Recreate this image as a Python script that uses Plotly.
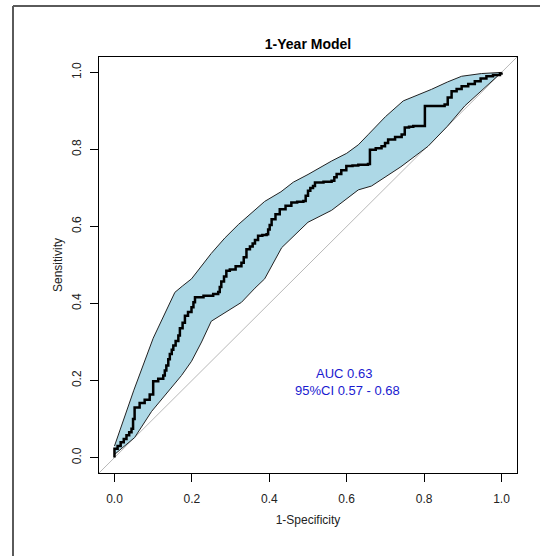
import plotly.graph_objects as go

# ROC curve (1-Specificity, Sensitivity) - step vertices
roc_fpr = [0, 0, 0.008, 0.016, 0.024, 0.031, 0.038, 0.044, 0.048, 0.052, 0.065, 0.078, 0.091,
           0.1, 0.113, 0.126, 0.13, 0.134, 0.139, 0.143, 0.148, 0.152, 0.158, 0.165, 0.169,
           0.176, 0.182, 0.19, 0.199, 0.204, 0.208, 0.23, 0.255, 0.268, 0.272, 0.276, 0.283,
           0.289, 0.298, 0.313, 0.328, 0.334, 0.341, 0.35, 0.357, 0.363, 0.371, 0.382, 0.393,
           0.397, 0.401, 0.406, 0.416, 0.427, 0.442, 0.457, 0.472, 0.488, 0.494, 0.5, 0.506,
           0.513, 0.518, 0.54, 0.561, 0.568, 0.574, 0.586, 0.599, 0.615, 0.63, 0.655, 0.66,
           0.675, 0.69, 0.699, 0.707, 0.725, 0.742, 0.75, 0.761, 0.772, 0.802, 0.853, 0.861,
           0.871, 0.884, 0.897, 0.914, 0.931, 0.946, 0.961, 0.978, 0.996, 1.0]
roc_tpr = [0, 0.023, 0.03, 0.04, 0.048, 0.058, 0.066, 0.075, 0.1, 0.13, 0.142, 0.15, 0.164,
           0.198, 0.205, 0.213, 0.226, 0.239, 0.255, 0.269, 0.28, 0.291, 0.303, 0.317, 0.336,
           0.35, 0.368, 0.378, 0.39, 0.403, 0.416, 0.42, 0.425, 0.43, 0.443, 0.457, 0.47,
           0.485, 0.488, 0.497, 0.506, 0.52, 0.541, 0.548, 0.556, 0.565, 0.576, 0.578, 0.58,
           0.592, 0.604, 0.619, 0.632, 0.645, 0.654, 0.662, 0.664, 0.666, 0.68, 0.693, 0.7,
           0.705, 0.714, 0.716, 0.719, 0.728, 0.736, 0.746, 0.757, 0.758, 0.76, 0.762, 0.799,
           0.803, 0.808, 0.817, 0.826, 0.832, 0.839, 0.857, 0.859, 0.861, 0.913, 0.917, 0.935,
           0.951, 0.957, 0.964, 0.97, 0.977, 0.984, 0.99, 0.993, 0.997, 1.0]

# Upper 95% CI bound
ci_up_fpr = [0, 0.05, 0.1, 0.156, 0.175, 0.199, 0.25, 0.285, 0.32, 0.354, 0.388, 0.43, 0.462,
             0.5, 0.535, 0.561, 0.6, 0.63, 0.655, 0.7, 0.746, 0.78, 0.819, 0.86, 0.897, 0.948, 1.0]
ci_up_tpr = [0.03, 0.175, 0.31, 0.429, 0.445, 0.464, 0.53, 0.57, 0.605, 0.635, 0.665, 0.69,
             0.715, 0.735, 0.755, 0.77, 0.79, 0.812, 0.838, 0.885, 0.926, 0.94, 0.956, 0.975,
             0.99, 0.997, 1.0]

# Lower 95% CI bound
ci_lo_fpr = [0, 0.052, 0.096, 0.173, 0.199, 0.225, 0.25, 0.328, 0.363, 0.388, 0.432, 0.5,
             0.561, 0.63, 0.664, 0.74, 0.81, 0.86, 0.905, 0.95, 1.0]
ci_lo_tpr = [0.008, 0.052, 0.12, 0.213, 0.25, 0.3, 0.354, 0.403, 0.44, 0.464, 0.545, 0.611,
             0.642, 0.695, 0.705, 0.755, 0.808, 0.86, 0.913, 0.955, 1.0]

tick_vals = [0.0, 0.2, 0.4, 0.6, 0.8, 1.0]
tick_text = ["0.0", "0.2", "0.4", "0.6", "0.8", "1.0"]

title_text = "1-Year Model"
x_title = "1-Specificity"
y_title = "Sensitivity"
auc_text = "AUC 0.63"
ci_text = "95%CI 0.57 - 0.68"

FONT = "Liberation Sans, Arial, sans-serif"

fig = go.Figure()

# diagonal reference line across the plot box
fig.add_trace(go.Scatter(x=[-0.04, 1.04], y=[-0.04, 1.04], mode="lines",
                         line=dict(color="#b8b8b8", width=1), hoverinfo="skip"))

# CI band
fig.add_trace(go.Scatter(x=ci_up_fpr + ci_lo_fpr[::-1], y=ci_up_tpr + ci_lo_tpr[::-1],
                         fill="toself", fillcolor="#add8e6", mode="lines",
                         line=dict(width=0, color="#add8e6"), hoverinfo="skip"))
fig.add_trace(go.Scatter(x=ci_up_fpr, y=ci_up_tpr, mode="lines",
                         line=dict(color="#222222", width=1)))
fig.add_trace(go.Scatter(x=ci_lo_fpr, y=ci_lo_tpr, mode="lines",
                         line=dict(color="#222222", width=1)))

# ROC curve
fig.add_trace(go.Scatter(x=roc_fpr, y=roc_tpr, mode="lines", line_shape="hv",
                         line=dict(color="black", width=2.5)))

fig.add_annotation(x=0.593, y=0.218, xref="x", yref="y", text=auc_text, showarrow=False,
                   font=dict(family=FONT, size=13, color="#1a1ad0"))
fig.add_annotation(x=0.602, y=0.174, xref="x", yref="y", text=ci_text, showarrow=False,
                   font=dict(family=FONT, size=13, color="#1a1ad0"))

# outer frame (left and top edges visible)
fx0 = (13 - 99) / 418
fy1 = (473 - 6) / 416
fig.add_shape(type="line", xref="paper", yref="paper", x0=fx0, x1=fx0,
              y0=(473 - 600) / 416, y1=fy1, line=dict(color="#5a5a5a", width=2))
fig.add_shape(type="line", xref="paper", yref="paper", x0=fx0, x1=(600 - 99) / 418,
              y0=fy1, y1=fy1, line=dict(color="#5a5a5a", width=2))

axis_common = dict(range=[-0.04, 1.04], tickvals=tick_vals, ticktext=tick_text,
                   showgrid=False, zeroline=False, showline=True, mirror=True,
                   linecolor="black", linewidth=1, ticks="outside", ticklen=8,
                   tickcolor="black", tickfont=dict(family=FONT, size=12, color="#222"))

fig.update_layout(
    width=540, height=556,
    margin=dict(l=99, r=23, t=57, b=83),
    paper_bgcolor="white", plot_bgcolor="white",
    showlegend=False,
    title=dict(text="<b>" + title_text + "</b>", x=(308) / 540, xanchor="center",
               y=1 - 44 / 556, yanchor="middle",
               font=dict(family=FONT, size=14, color="black")),
    xaxis=dict(**axis_common, ticklabelstandoff=7,
               title=dict(text=x_title, standoff=10,
                          font=dict(family=FONT, size=12, color="#222"))),
    yaxis=dict(**axis_common, tickangle=-90, ticklabelstandoff=4,
               title=dict(text=y_title, standoff=5,
                          font=dict(family=FONT, size=12, color="#222"))),
)

fig.write_html("out.html")
